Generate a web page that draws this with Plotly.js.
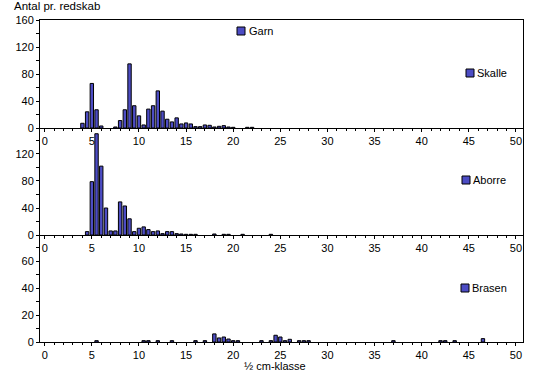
<!DOCTYPE html>
<html><head><meta charset="utf-8">
<script src="https://cdn.plot.ly/plotly-3.0.1.min.js"></script>
<style>html,body{margin:0;padding:0;background:#fff}#chart{width:546px;height:375px}</style>
</head><body><div id="chart"></div>
<script>
// ½ cm classes and counts per gear (Garn)
const skalleX = [4,4.5,5,5.5,6,7.5,8,8.5,9,9.5,10,10.5,11,11.5,12,12.5,13,13.5,14,14.5,15,15.5,16,16.5,17,17.5,18,18.5,19,19.5,20,21.5,22];
const skalleY = [7,24,66,27,3,1.5,11,27,95,33,18,4.5,28,33,55,25,13,9,15,6,7.5,6,2,2,4.5,4,1.5,2.5,3.5,1.5,1,1,1];

const aborreX = [4.5,5,5.5,6,6.5,7,7.5,8,8.5,9,9.5,10,10.5,11,11.5,12,12.5,13,13.5,14,14.5,15,15.5,16,18,19,19.5,21,24];
const aborreY = [5,79,150,102,40,6,6,49,43,24,5,10,12,8,5,6,2,5,5,2,1.5,1,1,1,1.5,1,1,1,1];

const brasenX = [5.5,10.5,11,12,13.5,16,17,18,18.5,19,19.5,20,20.5,23,24,24.5,25,25.5,26,27,27.5,28,37,42,42.5,43.5,46.5];
const brasenY = [1,1,1,1,1,1,1,6,3,3.7,2.2,1,1,1,1,5,3.7,1,2,1,1,1,1,1,1,1,2.5];

const seriesNames = ['Skalle','Aborre','Brasen'];
const gearName = 'Garn';
const yTitle = 'Antal pr. redskab';
const xTitle = '½ cm-klasse';
const xTickVals = [0,5,10,15,20,25,30,35,40,45,50];

const BLUE = '#4C4CC4';
const FONT = 'Liberation Sans, Arial, sans-serif';

function barTrace(x, y, name, xa, ya) {
  return {type:'bar', x:x, y:y, name:name, xaxis:xa, yaxis:ya, width:0.36,
    marker:{color:BLUE, line:{color:'#000', width:1}}, showlegend:false, hoverinfo:'x+y'};
}

const data = [
  barTrace(skalleX, skalleY, seriesNames[0], 'x', 'y'),
  barTrace(aborreX, aborreY, seriesNames[1], 'x2', 'y2'),
  barTrace(brasenX, brasenY, seriesNames[2], 'x3', 'y3')
];

const H = 322;
const d1 = (342-128)/H, d2 = (342-235)/H;

function xax(anchor, mirror) {
  return {anchor:anchor, range:[-0.5,50.75], showline:true, linecolor:'#000', linewidth:1,
    mirror:mirror, showgrid:false, zeroline:false, ticks:'outside', ticklen:3, tickcolor:'#000',
    tickvals:xTickVals, ticktext:xTickVals.map(String), tickfont:{family:FONT, size:11, color:'#000'},
    minor:{dtick:1, tick0:0, ticks:'outside', ticklen:2, tickcolor:'#000'}};
}
function yax(anchor, dom, range, vals, minorStep) {
  return {anchor:anchor, domain:dom, range:range, showline:true, linecolor:'#000', linewidth:1,
    mirror:true, showgrid:false, zeroline:false, ticks:'outside', ticklen:3, tickcolor:'#000',
    tickvals:vals, ticktext:vals.map(String), tickfont:{family:FONT, size:11, color:'#000'},
    minor:{dtick:minorStep, tick0:0, ticks:'outside', ticklen:3, tickcolor:'#000'}};
}

function legendBox(xpx, ypx) {
  return {type:'rect', xref:'paper', yref:'paper',
    x0:(xpx-40)/483, x1:(xpx+8-40)/483, y0:(342-ypx-8)/H, y1:(342-ypx)/H,
    fillcolor:BLUE, line:{color:'#000', width:1}};
}
function legendText(txt, xpx, ypx) {
  return {text:txt, xref:'paper', yref:'paper', x:(xpx-40)/483, y:(342-ypx)/H,
    xanchor:'left', yanchor:'middle', showarrow:false, font:{family:FONT, size:11, color:'#000'}};
}

const layout = {
  width:546, height:375, paper_bgcolor:'#fff', plot_bgcolor:'#fff',
  margin:{l:40, r:23, t:20, b:33}, bargap:0, showlegend:false,
  xaxis:xax('y', true), xaxis2:xax('y2', false), xaxis3:xax('y3', false),
  yaxis:yax('x', [d1,1], [0,160], [0,40,80,120,160], 20),
  yaxis2:yax('x2', [d2,d1], [0,158.5], [0,40,80,120], 20),
  yaxis3:yax('x3', [0,d2], [0,79.3], [0,20,40,60], 10),
  shapes:[legendBox(237,27), legendBox(466,69), legendBox(462,176), legendBox(461,284)],
  annotations:[
    {text:yTitle, xref:'paper', yref:'paper', x:-28/483, y:(342-6)/H, xanchor:'left', yanchor:'middle',
     showarrow:false, font:{family:FONT, size:11.5, color:'#000'}},
    {text:xTitle, xref:'paper', yref:'paper', x:(275-40)/483, y:(342-366)/H, xanchor:'center', yanchor:'middle',
     showarrow:false, font:{family:FONT, size:11, color:'#000'}},
    legendText(gearName, 247, 31),
    legendText(seriesNames[0], 475, 73),
    legendText(seriesNames[1], 471, 180),
    legendText(seriesNames[2], 470, 288)
  ]
};

Plotly.newPlot('chart', data, layout, {staticPlot:true, displayModeBar:false});
</script></body></html>
